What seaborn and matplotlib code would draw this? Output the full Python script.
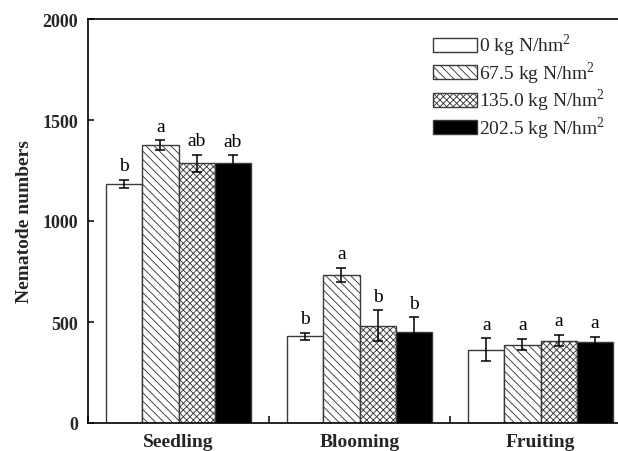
import matplotlib
matplotlib.use("Agg")
import matplotlib.pyplot as plt
from matplotlib.container import BarContainer
import seaborn as sns
import pandas as pd
import numpy as np

# ---- data ----
stages = ["Seedling", "Blooming", "Fruiting"]
treatments = [r"0 kg N/hm$^{2}$", r"67.5 kg N/hm$^{2}$", r"135.0 kg N/hm$^{2}$", r"202.5 kg N/hm$^{2}$"]
n0 = [1183, 430, 363]
n67 = [1376, 733, 388]
n135 = [1285, 482, 408]
n202 = [1285, 452, 403]
e0 = [20, 17, 56]
e67 = [24, 35, 29]
e135 = [44, 76, 29]
e202 = [40, 72, 23]
l0 = ["b", "b", "a"]
l67 = ["a", "a", "a"]
l135 = ["ab", "b", "a"]
l202 = ["ab", "b", "a"]

means = [n0, n67, n135, n202]
errs = [e0, e67, e135, e202]
letters = [l0, l67, l135, l202]

rows = []
for t, vals in zip(treatments, means):
    for s, v in zip(stages, vals):
        rows.append({"stage": s, "treatment": t, "value": v})
df = pd.DataFrame(rows)

sns.set_theme(style="ticks")
plt.rcParams["font.family"] = ["Liberation Serif", "DejaVu Serif"]
plt.rcParams["mathtext.fontset"] = "custom"
plt.rcParams["mathtext.rm"] = "Liberation Serif"
plt.rcParams["hatch.linewidth"] = 0.65

fig = plt.figure(figsize=(6.18, 4.52), dpi=100)
ax = fig.add_axes([88 / 618, 28 / 452, 543 / 618, 404 / 452])

face = ["white", "white", "white", "black"]
hatches = [None, "\\\\\\\\", "xxxxx", None]
edge = "#3a3a3a"

sns.barplot(data=df, x="stage", y="value", hue="treatment", order=stages,
            hue_order=treatments, errorbar=None, width=0.8, palette=face,
            edgecolor=edge, linewidth=1.0, saturation=1, legend=False, ax=ax)

bar_conts = [c for c in ax.containers if isinstance(c, BarContainer)]
for k, cont in enumerate(bar_conts):
    for j, bar in enumerate(cont.patches):
        bar.set_facecolor(face[k])
        bar.set_edgecolor(edge)
        if hatches[k]:
            bar.set_hatch(hatches[k])
        x = bar.get_x() + bar.get_width() / 2
        h = bar.get_height()
        err = errs[k][j]
        ax.errorbar(x, h, yerr=err, fmt="none", ecolor="black", elinewidth=1.1,
                    capsize=3.5, capthick=1.1, zorder=5)
        ax.annotate(letters[k][j], (x, h + err), xytext=(0, 4),
                    textcoords="offset points", ha="center", va="bottom",
                    fontsize=14, color="black")

ax.set_xlim(-0.5, 2.5)
ax.set_ylim(0, 2000)
ax.set_yticks([0, 500, 1000, 1500, 2000])
ax.set_xticks([0, 1, 2])
ax.set_xticklabels(stages, fontsize=14, fontweight="bold")
ax.set_xticks([-0.5, 0.5, 1.5, 2.5], minor=True)
ax.tick_params(axis="x", which="major", length=0, pad=7)
ax.tick_params(axis="x", which="minor", direction="in", length=5, width=1.1, color="black")
ax.tick_params(axis="y", which="major", direction="in", length=4, width=1.1,
               color="black", pad=7)
for lab in ax.get_yticklabels():
    lab.set_fontsize(13)
    lab.set_fontweight("bold")
ax.set_xlabel("")
ax.set_ylabel("Nematode numbers", fontsize=14, fontweight="bold", labelpad=7)

for sp in ax.spines.values():
    sp.set_linewidth(1.2)
    sp.set_color("black")
    sp.set_visible(True)

leg = ax.legend(bar_conts, treatments, loc="upper left",
                bbox_to_anchor=(423 / 618, 1 - 23 / 452), bbox_transform=fig.transFigure,
                frameon=False, fontsize=14, borderpad=0, handlelength=2.3,
                handleheight=0.75, handletextpad=0.1, labelspacing=0.05)

fig.savefig("out.png", dpi=100)
